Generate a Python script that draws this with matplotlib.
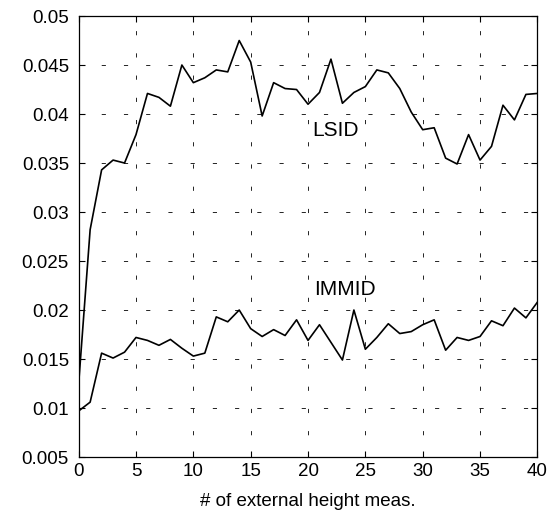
import matplotlib
matplotlib.use("Agg")
import matplotlib.pyplot as plt
import numpy as np

plt.rcParams['font.family'] = ['Liberation Sans', 'DejaVu Sans']
plt.rcParams['lines.scale_dashes'] = False

x_meas = list(range(0, 41))
lsid = [0.0125, 0.0282, 0.0343, 0.0353, 0.0350, 0.0379, 0.0421, 0.0417, 0.0408, 0.0450,
        0.0432, 0.0437, 0.0445, 0.0443, 0.0475, 0.0453, 0.0398, 0.0432, 0.0426, 0.0425,
        0.0410, 0.0422, 0.0456, 0.0411, 0.0422, 0.0428, 0.0445, 0.0442, 0.0426, 0.0402,
        0.0384, 0.0386, 0.0355, 0.0349, 0.0379, 0.0353, 0.0367, 0.0409, 0.0394, 0.0420,
        0.0421]
immid = [0.0097, 0.0106, 0.0156, 0.0151, 0.0157, 0.0172, 0.0169, 0.0164, 0.0170, 0.0161,
         0.0153, 0.0156, 0.0193, 0.0188, 0.0200, 0.0181, 0.0173, 0.0180, 0.0174, 0.0190,
         0.0169, 0.0185, 0.0167, 0.0149, 0.0200, 0.0160, 0.0172, 0.0186, 0.0176, 0.0178,
         0.0185, 0.0190, 0.0159, 0.0172, 0.0169, 0.0173, 0.0189, 0.0184, 0.0202, 0.0192,
         0.0208]

xticks = [0, 5, 10, 15, 20, 25, 30, 35, 40]
yticks = [0.005, 0.01, 0.015, 0.02, 0.025, 0.03, 0.035, 0.04, 0.045, 0.05]
ytick_labels = ['0.005', '0.01', '0.015', '0.02', '0.025', '0.03', '0.035', '0.04', '0.045', '0.05']

fig = plt.figure(figsize=(5.54, 5.17), dpi=100)
ax = fig.add_axes([0.142, 0.116, 0.828, 0.853])

ax.plot(x_meas, lsid, color='black', linewidth=1.2)
ax.plot(x_meas, immid, color='black', linewidth=1.2)

ax.set_xlim(0, 40)
ax.set_ylim(0.005, 0.05)
ax.set_xticks(xticks)
ax.set_xticklabels([str(t) for t in xticks], fontsize=13.5)
ax.set_yticks(yticks)
ax.set_yticklabels(ytick_labels, fontsize=13.5)
ax.tick_params(direction='in', top=True, right=True, length=4, width=0.8)
ax.tick_params(axis='y', pad=7)
ax.tick_params(axis='x', pad=4)
ax.grid(True, color='black', linestyle=(0, (3, 13)), linewidth=0.6)
for s in ax.spines.values():
    s.set_linewidth(0.9)

ax.text(22.4, 0.0383, 'LSID', fontsize=15, ha='center', va='center')
ax.text(23.2, 0.0221, 'IMMID', fontsize=15, ha='center', va='center')

ax.set_xlabel('# of external height meas.', fontsize=13.5, labelpad=10)

fig.savefig('out.png', dpi=100)
